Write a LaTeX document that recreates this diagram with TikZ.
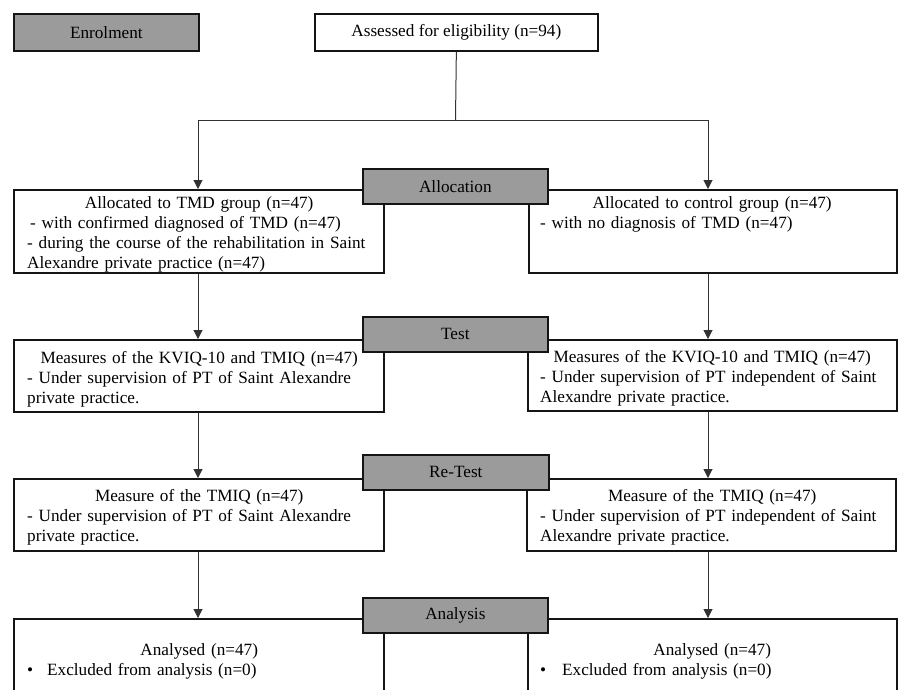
\documentclass[tikz,border=0pt]{standalone}
\usepackage{fontspec}
\setmainfont{Liberation Serif}
\usetikzlibrary{arrows.meta}
\definecolor{graybox}{RGB}{155,155,155}
\definecolor{edge}{RGB}{20,20,20}
\definecolor{linec}{RGB}{50,50,50}
\newcommand\dfont{\fontsize{17.2}{20}\selectfont}
\begin{document}
\begin{tikzpicture}[x=1pt,y=-1pt,
  wbox/.style={draw=edge, line width=1.7pt, fill=white, inner sep=0pt, anchor=north west},
  gbox/.style={draw=edge, line width=1.7pt, fill=graybox, inner sep=0pt, anchor=north west, font=\dfont},
  txt/.style={inner sep=0pt, anchor=north west, font=\dfont},
  conn/.style={draw=linec, line width=1pt},
  arr/.style={conn, -{Triangle[width=9pt,length=9pt]}}
]
\useasboundingbox (0,0) rectangle (898,689);
\clip (0,0) rectangle (898,689);

% white boxes
\node[wbox, minimum width=283pt, minimum height=37pt, font=\dfont] (assess) at (314,13) {Assessed for eligibility (n=94)};
\node[wbox, minimum width=370pt, minimum height=83pt] (tmd) at (13,189) {};
\node[wbox, minimum width=368pt, minimum height=83pt] (ctrl) at (528,189) {};
\node[wbox, minimum width=370pt, minimum height=72pt] (testL) at (13,339) {};
\node[wbox, minimum width=369pt, minimum height=71pt] (testR) at (527,339) {};
\node[wbox, minimum width=370pt, minimum height=72pt] (retL) at (13,478) {};
\node[wbox, minimum width=369pt, minimum height=72pt] (retR) at (526,478) {};
\node[wbox, minimum width=370pt, minimum height=100pt] (anaL) at (13,618) {};
\node[wbox, minimum width=369pt, minimum height=100pt] (anaR) at (527,618) {};

% texts
\node[txt, text width=344pt] (tmdT) at ([xshift=14pt,yshift=-5pt]tmd.north west)
  {{\centering\strut Allocated to TMD group (n=47)\par}\raggedright
   \hspace*{3pt}- with confirmed diagnosed of TMD (n=47)\\
   - during the course of the rehabilitation in Saint\\
   Alexandre private practice (n=47)};
\node[txt, text width=344pt] (ctrlT) at ([xshift=12pt,yshift=-5pt]ctrl.north west)
  {{\centering\strut Allocated to control group (n=47)\par}\raggedright
   - with no diagnosis of TMD (n=47)};
\node[txt, text width=344pt] (testLT) at ([xshift=14pt,yshift=-10pt]testL.north west)
  {{\centering\strut Measures of the KVIQ-10 and TMIQ (n=47)\par}\raggedright
   - Under supervision of PT of Saint Alexandre\\
   private practice.};
\node[txt, text width=344pt] (testRT) at ([xshift=13pt,yshift=-9pt]testR.north west)
  {{\centering\strut Measures of the KVIQ-10 and TMIQ (n=47)\par}\raggedright
   - Under supervision of PT independent of Saint\\
   Alexandre private practice.};
\node[txt, text width=344pt] (retLT) at ([xshift=14pt,yshift=-9pt]retL.north west)
  {{\centering\strut Measure of the TMIQ (n=47)\par}\raggedright
   - Under supervision of PT of Saint Alexandre\\
   private practice.};
\node[txt, text width=344pt] (retRT) at ([xshift=14pt,yshift=-9pt]retR.north west)
  {{\centering\strut Measure of the TMIQ (n=47)\par}\raggedright
   - Under supervision of PT independent of Saint\\
   Alexandre private practice.};
\node[txt, text width=344pt] (anaLT) at ([xshift=14pt,yshift=-23pt]anaL.north west)
  {{\centering\strut Analysed (n=47)\par}\raggedright
   \makebox[20pt][l]{\textbullet}Excluded from analysis (n=0)};
\node[txt, text width=344pt] (anaRT) at ([xshift=13pt,yshift=-23pt]anaR.north west)
  {{\centering\strut Analysed (n=47)\par}\raggedright
   \makebox[22pt][l]{\textbullet}Excluded from analysis (n=0)};

% gray stage boxes
\node[gbox, minimum width=185pt, minimum height=37pt] (enrol) at (13,13) {Enrolment};
\node[gbox, minimum width=185pt, minimum height=35pt] (alloc) at (362,168) {Allocation};
\node[gbox, minimum width=185pt, minimum height=35pt] (test) at (362,316) {Test};
\node[gbox, minimum width=186pt, minimum height=35pt] (retest) at (362,454) {Re-Test};
\node[gbox, minimum width=185pt, minimum height=35pt] (ana) at (362,597) {Analysis};

% connectors
\coordinate (split) at (455.5,120);
\coordinate (sl) at (198,120);
\coordinate (sr) at (708,120);
\draw[conn] (assess.south) -- (split);
\draw[conn] (sl) -- (sr);
\draw[arr] (sl) -- (sl |- tmd.north);
\draw[arr] (sr) -- (sr |- ctrl.north);
\draw[arr] (sl |- tmd.south) -- (sl |- testL.north);
\draw[arr] (sr |- ctrl.south) -- (sr |- testR.north);
\draw[arr] (sl |- testL.south) -- (sl |- retL.north);
\draw[arr] (sr |- testR.south) -- (sr |- retR.north);
\draw[arr] (sl |- retL.south) -- (sl |- anaL.north);
\draw[arr] (sr |- retR.south) -- (sr |- anaR.north);
\end{tikzpicture}
\end{document}
